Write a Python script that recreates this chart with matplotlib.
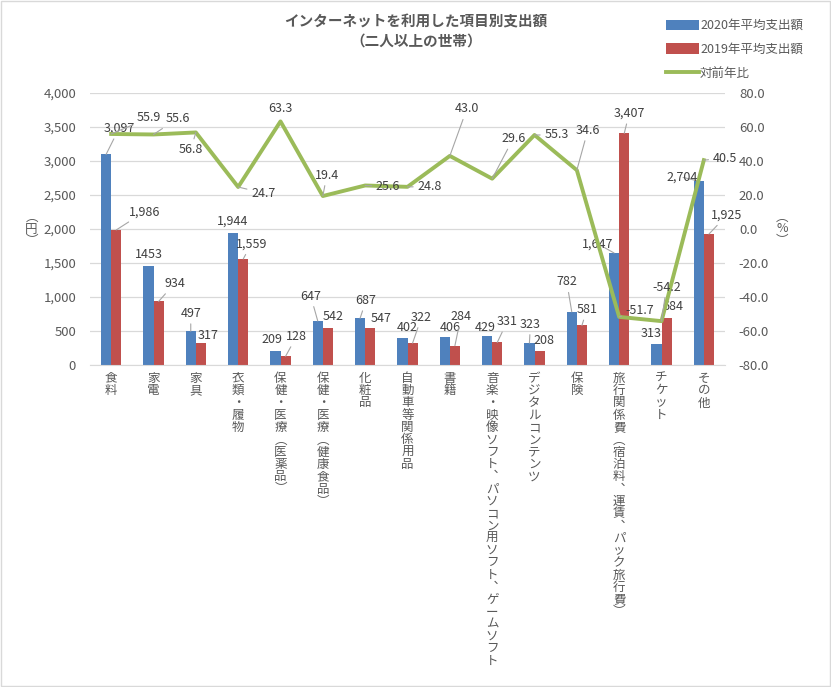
import matplotlib
matplotlib.use("Agg")
import matplotlib.pyplot as plt
import numpy as np

plt.rcParams['font.family'] = ['Noto Sans CJK JP', 'DejaVu Sans']

categories = ["食料", "家電", "家具", "衣類・履物", "保健・医療（医薬品）",
              "保健・医療（健康食品）", "化粧品", "自動車等関係用品", "書籍",
              "音楽・映像ソフト、パソコン用ソフト、ゲームソフト", "デジタルコンテンツ",
              "保険", "旅行関係費（宿泊料、運賃、パック旅行費）", "チケット", "その他"]
spend_2020 = [3097, 1453, 497, 1944, 209, 647, 687, 402, 406, 429, 323, 782, 1647, 313, 2704]
spend_2019 = [1986, 934, 317, 1559, 128, 542, 547, 322, 284, 331, 208, 581, 3407, 684, 1925]
yoy = [55.9, 55.6, 56.8, 24.7, 63.3, 19.4, 25.6, 24.8, 43.0, 29.6, 55.3, 34.6, -51.7, -54.2, 40.5]
label_2020 = ["3,097", "1453", "497", "1,944", "209", "647", "687", "402", "406", "429",
              "323", "782", "1,647", "313", "2,704"]
label_2019 = ["1,986", "934", "317", "1,559", "128", "542", "547", "322", "284", "331",
              "208", "581", "3,407", "684", "1,925"]

# label offsets in pixels (dx right, dy up) from the mark
off_2020 = [(13, 26), (1, 12), (0, 18), (0, 12), (-3, 11), (-7, 25), (6, 18), (5, 10), (5, 10),
            (-2, 8), (1, 19), (-5, 30), (-16, 9), (-5, 10), (-17, 4)]
off_2019 = [(28, 18), (16, 18), (7, 8), (8, 15), (11, 20), (5, 12), (11, 9), (9, 26), (6, 29),
            (10, 21), (4, 10), (5, 16), (5, 20), (6, 12), (18, 19)]
off_yoy = [(38, 16), (24, 16), (-5, -17), (25, -6), (0, 13), (4, 21), (23, -1), (22, 0),
           (17, 47), (21, 40), (22, 0), (11, 40), (21, 6), (5, 34), (21, 2)]

BLUE = "#4F81BD"
RED = "#C0504D"
GREEN = "#9BBB59"
TXT = "#595959"
LBL = "#404040"

VERT = {"（": "︵", "）": "︶", "、": "︑"}


def vertical(s):
    return "\n".join(VERT.get(c, c) for c in s)


fig = plt.figure(figsize=(8.31, 6.87), dpi=100)
ax = fig.add_axes([90 / 831, 1 - 365 / 687, 635 / 831, 272 / 687])
ax2 = ax.twinx()

x = np.arange(len(categories))
w = 0.24
b1 = ax.bar(x - w / 2, spend_2020, w, color=BLUE, label="2020年平均支出額", zorder=2)
b2 = ax.bar(x + w / 2, spend_2019, w, color=RED, label="2019年平均支出額", zorder=2)
ln, = ax2.plot(x, yoy, color=GREEN, lw=2.8, label="対前年比", zorder=3)

ax.set_xlim(-0.5, len(categories) - 0.5)
ax.set_ylim(0, 4000)
ax.set_yticks(np.arange(0, 4001, 500))
ax.set_yticklabels([f"{v:,}" for v in range(0, 4001, 500)])
ax2.set_ylim(-80, 80)
ax2.set_yticks(np.arange(-80, 81, 20))
ax2.set_yticklabels([f"{v:.1f}" for v in range(-80, 81, 20)])

ax.grid(axis="y", color="#D9D9D9", lw=0.9, zorder=0)
ax.set_axisbelow(True)
for a in (ax, ax2):
    for s in a.spines.values():
        s.set_visible(False)
    a.tick_params(length=0, labelsize=9.5, colors=TXT)
ax.spines["bottom"].set_visible(True)
ax.spines["bottom"].set_color("#D9D9D9")
ax.tick_params(axis="y", pad=10)
ax2.tick_params(axis="y", pad=10)

ax.set_xticks(x)
ax.set_xticklabels([])
for i, c in enumerate(categories):
    ax.text(i, -0.025, vertical(c), transform=ax.get_xaxis_transform(), ha="center",
            va="top", fontsize=9, color=TXT, linespacing=0.93)

ax.text(-0.092, 0.5, vertical("（円）"), transform=ax.transAxes, ha="center", va="center",
        fontsize=9, color=TXT, linespacing=0.9)
ax2.text(1.09, 0.5, vertical("（%）"), transform=ax.transAxes, ha="center", va="center",
         fontsize=9, color=TXT, linespacing=0.9)

lead = dict(arrowstyle="-", color="#A6A6A6", lw=0.8, shrinkA=1, shrinkB=0)


def put(a, xv, yv, text, off):
    far = abs(off[0]) > 14 or abs(off[1]) > 14
    a.annotate(text, (xv, yv), xytext=off, textcoords="offset pixels", ha="center",
               va="center", fontsize=9, color=LBL, zorder=5,
               arrowprops=lead if far else None)


for i in range(len(categories)):
    put(ax, x[i] - w / 2, spend_2020[i], label_2020[i], off_2020[i])
    put(ax, x[i] + w / 2, spend_2019[i], label_2019[i], off_2019[i])
    put(ax2, x[i], yoy[i], f"{yoy[i]:.1f}", off_yoy[i])

fig.text(416 / 831, 1 - 31 / 687, "インターネットを利用した項目別支出額\n（二人以上の世帯）",
         ha="center", va="center", fontsize=10.5, color=TXT, fontweight="bold", linespacing=1.3)

fig.legend([b1, b2, ln], ["2020年平均支出額", "2019年平均支出額", "対前年比"],
           loc="upper left", bbox_to_anchor=(655 / 831, 1 - 8 / 687), frameon=False,
           fontsize=9, labelcolor=TXT, handlelength=2.6, handleheight=0.9,
           handletextpad=0.1, labelspacing=0.85)

fig.patches.append(plt.Rectangle((0.001, 0.001), 0.998, 0.998, transform=fig.transFigure,
                                 fill=False, edgecolor="#D9D9D9", lw=1))

fig.savefig("out.png", dpi=100)
